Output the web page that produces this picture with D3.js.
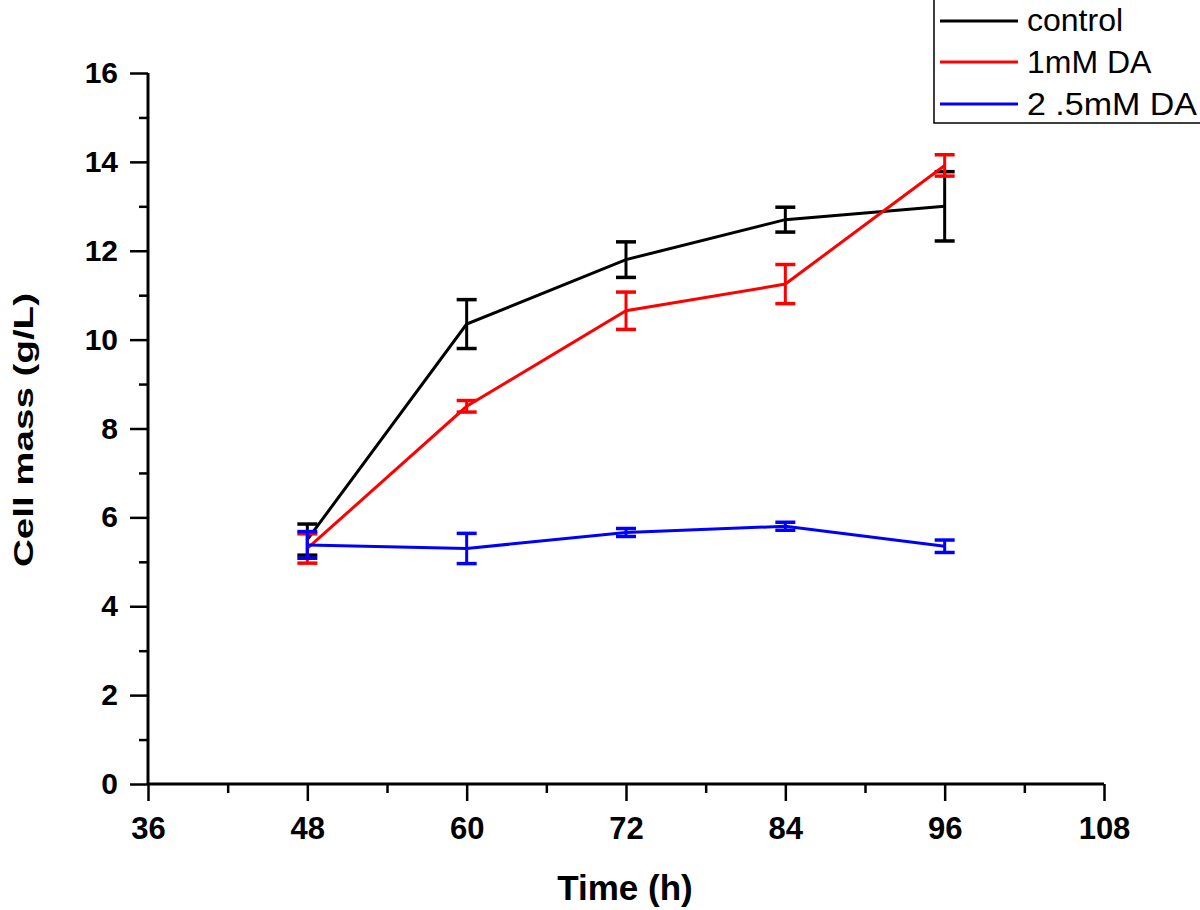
<!DOCTYPE html>
<html><head><meta charset="utf-8">
<script src="https://cdn.jsdelivr.net/npm/d3@7"></script>
<style>body{margin:0;background:#fff}svg{display:block}</style>
</head><body>
<script>
const times = [48, 60, 72, 84, 96];
const seriesNames = ["control", "1mM DA", "2 .5mM DA"];
const seriesColors = ["#000000", "#ff0000", "#0000ff"];
const controlMean = [5.5, 10.35, 11.8, 12.7, 13.0];
const controlErr  = [0.35, 0.55, 0.4, 0.28, 0.78];
const da1Mean = [5.3, 8.5, 10.65, 11.25, 13.92];
const da1Err  = [0.33, 0.13, 0.42, 0.44, 0.24];
const da25Mean = [5.38, 5.3, 5.66, 5.8, 5.35];
const da25Err  = [0.3, 0.34, 0.09, 0.09, 0.14];
const xTicks = [36, 48, 60, 72, 84, 96, 108];
const yTicks = [0, 2, 4, 6, 8, 10, 12, 14, 16];

const W = 1200, H = 910;
const svg = d3.select("body").append("svg").attr("width", W).attr("height", H);
const x = d3.scaleLinear().domain([36, 108]).range([148, 1104]);
const y = d3.scaleLinear().domain([0, 16]).range([784, 73]);

const sans = "'Liberation Sans',Arial,sans-serif";

const xMinor = d3.range(42, 108, 12);
const yMinor = d3.range(1, 16, 2);

const gx = svg.append("g").attr("transform", "translate(0,784)");
gx.call(d3.axisBottom(x).tickValues(xTicks).tickSize(17).tickPadding(16).tickFormat(d3.format("d")));
gx.append("g").call(d3.axisBottom(x).tickValues(xMinor).tickSize(9).tickFormat(""));
gx.selectAll("g g path.domain").remove();
gx.select("path.domain").attr("d", "M148,0H1104").attr("stroke-width", 3);
gx.selectAll("line").attr("stroke-width", 2.5);
gx.selectAll("text").style("font-family", sans).style("font-weight", "bold").style("font-size", "31px").attr("fill", "#000");

const gy = svg.append("g").attr("transform", "translate(148,0)");
gy.call(d3.axisLeft(y).tickValues(yTicks).tickSize(18).tickPadding(12).tickFormat(d3.format("d")));
gy.append("g").call(d3.axisLeft(y).tickValues(yMinor).tickSize(9).tickFormat(""));
gy.selectAll("g g path.domain").remove();
gy.select("path.domain").attr("d", "M0,785V73").attr("stroke-width", 3);
gy.selectAll("line").attr("stroke-width", 2.5);
gy.selectAll("text").style("font-family", sans).style("font-weight", "bold").style("font-size", "30px").attr("fill", "#000");

// axis titles
svg.append("text").attr("x", 625).attr("y", 900).attr("text-anchor", "middle")
  .style("font-family", sans).style("font-weight", "bold").style("font-size", "35px").text("Time (h)");
svg.append("text").attr("transform", "translate(33,430) rotate(-90)").attr("text-anchor", "middle")
  .attr("textLength", 274).attr("lengthAdjust", "spacingAndGlyphs")
  .style("font-family", sans).style("font-weight", "bold").style("font-size", "28px").text("Cell mass (g/L)");

const series = [
  {name: seriesNames[0], color: seriesColors[0], m: controlMean, e: controlErr},
  {name: seriesNames[1], color: seriesColors[1], m: da1Mean, e: da1Err},
  {name: seriesNames[2], color: seriesColors[2], m: da25Mean, e: da25Err}
];
const line = d3.line().x(d => x(d.t)).y(d => y(d.v));
series.forEach(s => {
  const pts = times.map((t, i) => ({t, v: s.m[i], e: s.e[i]}));
  const g = svg.append("g");
  g.append("path").datum(pts).attr("d", line).attr("fill", "none").attr("stroke", s.color).attr("stroke-width", 3);
  pts.forEach(p => {
    const cx = x(p.t), y1 = y(p.v + p.e), y2 = y(p.v - p.e);
    g.append("line").attr("x1", cx).attr("x2", cx).attr("y1", y1).attr("y2", y2).attr("stroke", s.color).attr("stroke-width", 3);
    [y1, y2].forEach(yy => g.append("line").attr("x1", cx - 10).attr("x2", cx + 10).attr("y1", yy).attr("y2", yy).attr("stroke", s.color).attr("stroke-width", 3.5));
  });
});

// legend
const lg = svg.append("g");
lg.append("rect").attr("x", 934).attr("y", -2).attr("width", 268).attr("height", 125).attr("fill", "#fff").attr("stroke", "#000").attr("stroke-width", 1.5);
const rowsY = [21, 62, 104];
const baseY = [31, 73, 115];
series.forEach((s, i) => {
  lg.append("line").attr("x1", 940).attr("x2", 1018).attr("y1", rowsY[i]).attr("y2", rowsY[i]).attr("stroke", s.color).attr("stroke-width", 3);
  lg.append("text").attr("x", 1027).attr("y", baseY[i]).attr("textLength", s.name === "2 .5mM DA" ? 170 : null)
    .attr("lengthAdjust", "spacingAndGlyphs").style("font-family", sans).style("font-size", "32px").attr("fill", "#000").text(s.name);
});
</script>
</body></html>
